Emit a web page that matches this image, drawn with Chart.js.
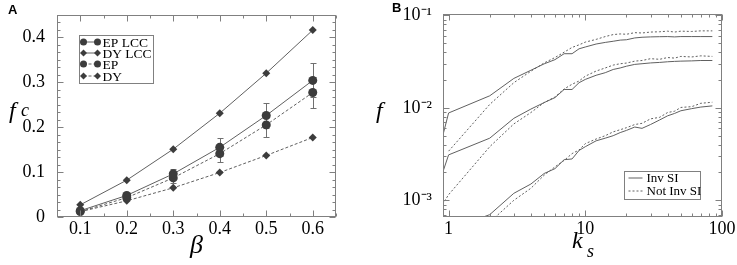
<!DOCTYPE html>
<html>
<head>
<title>Epidemic threshold fc and fraction f</title>
<script src="https://cdn.jsdelivr.net/npm/chart.js"></script>
<style>
    body { margin: 0; background: #fff; }
    #wrap { position: relative; width: 737px; height: 265px; }
    canvas { position: absolute; top: 0; }
    #chartA { left: 0; }
    #chartB { left: 370px; }
    .ttl { position: absolute; font-family: 'Liberation Serif', 'Times New Roman', serif; font-style: italic; color: #000; line-height: 1; white-space: nowrap; }
    .panel { position: absolute; font: bold 13px 'Liberation Sans', Arial, sans-serif; color: #000; }
</style>
</head>
<body>
<div id="wrap">
    <canvas id="chartA" width="370" height="265"></canvas>
    <canvas id="chartB" width="367" height="265"></canvas>
    <div class="panel" style="left:8px;top:2px">A</div>
    <div class="panel" style="left:392px;top:0px">B</div>
    <div class="ttl" style="left:9px;top:98px;font-size:24px">f</div>
    <div class="ttl" style="left:21px;top:101px;font-size:18px">c</div>
    <div class="ttl" style="left:190px;top:232px;font-size:26px">β</div>
    <div class="ttl" style="left:376px;top:98px;font-size:24px">f</div>
    <div class="ttl" style="left:572px;top:228px;font-size:24px">k</div>
    <div class="ttl" style="left:587px;top:242px;font-size:18px">s</div>
</div>

<script>
    // panel A: critical fraction vs beta
    const beta = [0.1, 0.2, 0.3, 0.4, 0.5, 0.6];
    const epLcc = [0.014, 0.048, 0.096, 0.155, 0.226, 0.304];
    const epLccErr = [0.003, 0.004, 0.011, 0.020, 0.027, 0.038];
    const dyLcc = [0.027, 0.082, 0.151, 0.231, 0.320, 0.416];
    const ep = [0.012, 0.043, 0.087, 0.141, 0.205, 0.277];
    const epErr = [0.002, 0.004, 0.011, 0.018, 0.026, 0.034];
    const dy = [0.012, 0.036, 0.065, 0.099, 0.137, 0.177];
    const legendA = ['EP LCC', 'DY LCC', 'EP', 'DY'];

    // panel B: fraction vs k_s (three pairs of curves)
    const ks = [0.9, 1, 2, 3, 4, 5, 6, 7, 8, 9, 10, 12, 14, 16, 18, 20, 23, 26, 30, 35, 40, 45, 50, 60, 70, 85];
    const invTop = [0.0048, 0.0088, 0.0135, 0.0208, 0.0255, 0.0299, 0.0332, 0.0385, 0.0385, 0.0435, 0.0455, 0.049, 0.051, 0.0525, 0.054, 0.0545, 0.057, 0.058, 0.0585, 0.0588, 0.059, 0.0585, 0.059, 0.059, 0.059, 0.059];
    const notTop = [null, 0.0034, 0.0109, 0.0187, 0.0249, 0.0306, 0.035, 0.040, 0.045, 0.048, 0.0514, 0.055, 0.059, 0.062, 0.063, 0.0625, 0.065, 0.0645, 0.066, 0.0665, 0.0675, 0.066, 0.0675, 0.067, 0.068, 0.068];
    const invMid = [0.00195, 0.0031, 0.0047, 0.0077, 0.0097, 0.0114, 0.0129, 0.0158, 0.0158, 0.0187, 0.0203, 0.0225, 0.024, 0.026, 0.027, 0.0282, 0.0295, 0.030, 0.0306, 0.031, 0.0315, 0.0318, 0.032, 0.0322, 0.0325, 0.0325];
    const notMid = [0.0009, 0.00115, 0.0038, 0.0067, 0.0089, 0.0114, 0.0131, 0.016, 0.018, 0.0195, 0.022, 0.025, 0.027, 0.029, 0.030, 0.0305, 0.032, 0.0325, 0.034, 0.0335, 0.035, 0.0345, 0.036, 0.0355, 0.0365, 0.036];
    const invLow = [null, 0.00048, 0.0007, 0.00119, 0.0015, 0.00195, 0.0022, 0.00275, 0.0028, 0.00346, 0.0038, 0.0044, 0.0047, 0.005, 0.0054, 0.0057, 0.0062, 0.006, 0.0066, 0.0074, 0.0082, 0.0087, 0.0093, 0.0098, 0.0102, 0.0105];
    const notLow = [null, 0.00025, 0.00058, 0.001, 0.00135, 0.00187, 0.0023, 0.0027, 0.0032, 0.0035, 0.0041, 0.0046, 0.005, 0.0055, 0.0058, 0.0061, 0.0066, 0.0068, 0.0076, 0.0079, 0.0089, 0.0092, 0.0101, 0.0103, 0.0112, 0.0115];
    const legendB = ['Inv SI', 'Not Inv SI'];

    const serif = "'Liberation Serif', 'Times New Roman', serif";
    const lineGrey = '#606060';
    const markGrey = '#3c3c3c';
    const frameGrey = '#808080';

    Chart.defaults.font.family = serif;
    Chart.defaults.font.size = 18;
    Chart.defaults.color = '#000';

    function pts(xs, ys) {
        return xs.map((x, i) => ({ x: x, y: ys[i] }));
    }

    function isMult(v, step) {
        const r = v / step;
        return Math.abs(r - Math.round(r)) < 1e-6;
    }

    function linTicks(min, max, step, bigStep) {
        const out = [];
        for (let i = 0; ; i++) {
            const v = +(min + i * step).toFixed(6);
            if (v > max + 1e-9) break;
            out.push({ value: v, big: isMult(v, bigStep) });
        }
        return out;
    }

    function logTicks(min, max) {
        const out = [];
        for (let e = -4; e <= 2; e++) {
            for (let m = 1; m <= 9; m++) {
                const v = Number((m * Math.pow(10, e)).toPrecision(6));
                if (v >= min * 0.9999 && v <= max * 1.0001) out.push({ value: v, big: m === 1 });
            }
        }
        return out;
    }

    const sup = { '-': '⁻', '0': '⁰', '1': '¹', '2': '²', '3': '³', '4': '⁴' };
    function powLabel(v) {
        const e = Math.round(Math.log10(v));
        return '10' + String(e).split('').map(c => sup[c]).join('');
    }

    function drawMark(ctx, style, x, y, r) {
        ctx.beginPath();
        if (style === 'circle') {
            ctx.arc(x, y, r, 0, Math.PI * 2);
        } else {
            ctx.moveTo(x, y - r); ctx.lineTo(x + r, y); ctx.lineTo(x, y + r); ctx.lineTo(x - r, y);
            ctx.closePath();
        }
        ctx.fill();
    }

    // box round the plot with inward ticks on all four sides
    const frame = {
        id: 'frame',
        afterDraw(chart) {
            const { ctx, chartArea: a } = chart;
            const L = Math.round(a.left) + 0.5, R = Math.round(a.right) - 0.5;
            const T = Math.round(a.top) + 0.5, B = Math.round(a.bottom) - 0.5;
            ctx.save();
            ctx.strokeStyle = frameGrey;
            ctx.lineWidth = 1;
            ctx.strokeRect(L, T, R - L, B - T);
            ctx.beginPath();
            chart.scales.x.ticks.forEach(t => {
                const p = Math.round(chart.scales.x.getPixelForValue(t.value)) + 0.5;
                const n = t.big ? 6 : 3;
                ctx.moveTo(p, B); ctx.lineTo(p, B - n);
                ctx.moveTo(p, T); ctx.lineTo(p, T + n);
            });
            chart.scales.y.ticks.forEach(t => {
                const p = Math.round(chart.scales.y.getPixelForValue(t.value)) + 0.5;
                const n = t.big ? 6 : 3;
                ctx.moveTo(L, p); ctx.lineTo(L + n, p);
                ctx.moveTo(R, p); ctx.lineTo(R - n, p);
            });
            ctx.stroke();
            ctx.restore();
        }
    };

    const errorBars = {
        id: 'errorBars',
        beforeDatasetsDraw(chart) {
            const { ctx, scales: { x, y } } = chart;
            ctx.save();
            ctx.strokeStyle = '#707070';
            ctx.lineWidth = 1;
            chart.data.datasets.forEach(ds => {
                if (!ds.errors) return;
                ds.data.forEach((p, i) => {
                    const px = Math.round(x.getPixelForValue(p.x)) + 0.5;
                    const top = Math.round(y.getPixelForValue(p.y + ds.errors[i])) + 0.5;
                    const bot = Math.round(y.getPixelForValue(p.y - ds.errors[i])) + 0.5;
                    ctx.beginPath();
                    ctx.moveTo(px, top); ctx.lineTo(px, bot);
                    ctx.moveTo(px - 3, top); ctx.lineTo(px + 3, top);
                    ctx.moveTo(px - 3, bot); ctx.lineTo(px + 3, bot);
                    ctx.stroke();
                });
            });
            ctx.restore();
        }
    };

    const legendBoxA = {
        id: 'legendBoxA',
        afterDraw(chart) {
            const { ctx, chartArea: a } = chart;
            const x = Math.round(a.left) + 22.5, y = Math.round(a.top) + 20.5;
            ctx.save();
            ctx.fillStyle = '#fff';
            ctx.fillRect(x, y, 74, 48);
            ctx.strokeStyle = frameGrey;
            ctx.strokeRect(x, y, 74, 48);
            ctx.font = "13.5px 'Liberation Serif', serif";
            ctx.textBaseline = 'middle';
            chart.data.datasets.forEach((ds, i) => {
                const cy = Math.round(y + 6 + i * 11.4);
                ctx.strokeStyle = lineGrey;
                ctx.setLineDash(ds.borderDash || []);
                ctx.beginPath(); ctx.moveTo(x + 4, cy); ctx.lineTo(x + 18, cy); ctx.stroke();
                ctx.setLineDash([]);
                ctx.fillStyle = markGrey;
                drawMark(ctx, ds.pointStyle, x + 4, cy, 3.5);
                drawMark(ctx, ds.pointStyle, x + 18, cy, 3.5);
                ctx.fillStyle = '#000';
                ctx.fillText(ds.label, x + 23, cy + 1);
            });
            ctx.restore();
        }
    };

    const legendBoxB = {
        id: 'legendBoxB',
        afterDraw(chart) {
            const { ctx, chartArea: a } = chart;
            const x = Math.round(a.left) + 181.5, y = Math.round(a.top) + 157.5;
            ctx.save();
            ctx.fillStyle = '#fff';
            ctx.fillRect(x, y, 76, 28);
            ctx.strokeStyle = frameGrey;
            ctx.strokeRect(x, y, 76, 28);
            ctx.font = "13px 'Liberation Serif', serif";
            ctx.textBaseline = 'middle';
            legendB.forEach((txt, i) => {
                const cy = Math.round(y + 6 + i * 13);
                ctx.strokeStyle = lineGrey;
                ctx.setLineDash(i === 0 ? [] : [2, 2]);
                ctx.beginPath(); ctx.moveTo(x + 4, cy); ctx.lineTo(x + 18, cy); ctx.stroke();
                ctx.setLineDash([]);
                ctx.fillStyle = '#000';
                ctx.fillText(txt, x + 22, cy + 1);
            });
            ctx.restore();
        }
    };

    function tickFont() {
        return { family: 'Liberation Serif', size: 18 };
    }

    function seriesA(label, ys, style, dashed, errs) {
        return {
            label: label,
            data: pts(beta, ys),
            errors: errs,
            borderColor: lineGrey,
            borderWidth: 1,
            borderDash: dashed ? [3, 2] : [],
            pointStyle: style,
            pointRadius: style === 'circle' ? 4.5 : 4,
            pointBackgroundColor: markGrey,
            pointBorderColor: markGrey,
            pointBorderWidth: 0,
            tension: 0
        };
    }

    new Chart(document.getElementById('chartA').getContext('2d'), {
        type: 'line',
        data: {
            datasets: [
                seriesA(legendA[0], epLcc, 'circle', false, epLccErr),
                seriesA(legendA[1], dyLcc, 'rectRot', false, null),
                seriesA(legendA[2], ep, 'circle', true, epErr),
                seriesA(legendA[3], dy, 'rectRot', true, null)
            ]
        },
        options: {
            responsive: false,
            animation: false,
            layout: { padding: { left: 0, right: 34, top: 12, bottom: 0 } },
            plugins: { legend: { display: false }, tooltip: { enabled: false } },
            scales: {
                x: {
                    type: 'linear',
                    min: 0.05,
                    max: 0.65,
                    afterBuildTicks: s => { s.ticks = linTicks(0.05, 0.65, 0.05, 0.1); },
                    afterFit: s => { s.height = 48; },
                    grid: { display: false },
                    border: { display: false },
                    ticks: {
                        autoSkip: false, maxRotation: 0, padding: -7, color: '#000', font: tickFont(),
                        callback: v => isMult(v, 0.1) ? v.toFixed(1) : ''
                    }
                },
                y: {
                    type: 'linear',
                    min: 0,
                    max: 0.45,
                    afterBuildTicks: s => { s.ticks = linTicks(0, 0.45, 0.1 / 6, 0.1); },
                    afterFit: s => { s.width = 57; },
                    grid: { display: false },
                    border: { display: false },
                    ticks: {
                        autoSkip: false, padding: 4, color: '#000', font: tickFont(),
                        callback: v => !isMult(v, 0.1) ? '' : (v === 0 ? '0' : v.toFixed(1))
                    }
                }
            }
        },
        plugins: [errorBars, frame, legendBoxA]
    });

    function seriesB(ys, dashed) {
        return {
            data: pts(ks, ys),
            borderColor: lineGrey,
            borderWidth: 1,
            borderDash: dashed ? [2, 2] : [],
            pointRadius: 0,
            tension: 0
        };
    }

    new Chart(document.getElementById('chartB').getContext('2d'), {
        type: 'line',
        data: {
            datasets: [
                seriesB(invTop, false), seriesB(notTop, true),
                seriesB(invMid, false), seriesB(notMid, true),
                seriesB(invLow, false), seriesB(notLow, true)
            ]
        },
        options: {
            responsive: false,
            animation: false,
            layout: { padding: { left: 0, right: 15, top: 12, bottom: 0 } },
            plugins: { legend: { display: false }, tooltip: { enabled: false } },
            scales: {
                x: {
                    type: 'logarithmic',
                    min: 0.91,
                    max: 100,
                    afterBuildTicks: s => { s.ticks = logTicks(0.91, 100); },
                    afterFit: s => { s.height = 48; },
                    grid: { display: false },
                    border: { display: false },
                    ticks: {
                        autoSkip: false, maxRotation: 0, padding: -7, color: '#000', font: tickFont(),
                        callback: v => {
                            const e = Math.log10(v);
                            return Math.abs(e - Math.round(e)) < 1e-6 ? String(Math.round(v)) : '';
                        }
                    }
                },
                y: {
                    type: 'logarithmic',
                    min: 0.00066,
                    max: 0.104,
                    afterBuildTicks: s => { s.ticks = logTicks(0.00066, 0.104); },
                    afterFit: s => { s.width = 73; },
                    grid: { display: false },
                    border: { display: false },
                    ticks: {
                        autoSkip: false, padding: 3, color: '#000', font: tickFont(),
                        callback: v => {
                            const e = Math.log10(v);
                            return Math.abs(e - Math.round(e)) < 1e-6 ? powLabel(v) : '';
                        }
                    }
                }
            }
        },
        plugins: [frame, legendBoxB]
    });
</script>
</body>
</html>
